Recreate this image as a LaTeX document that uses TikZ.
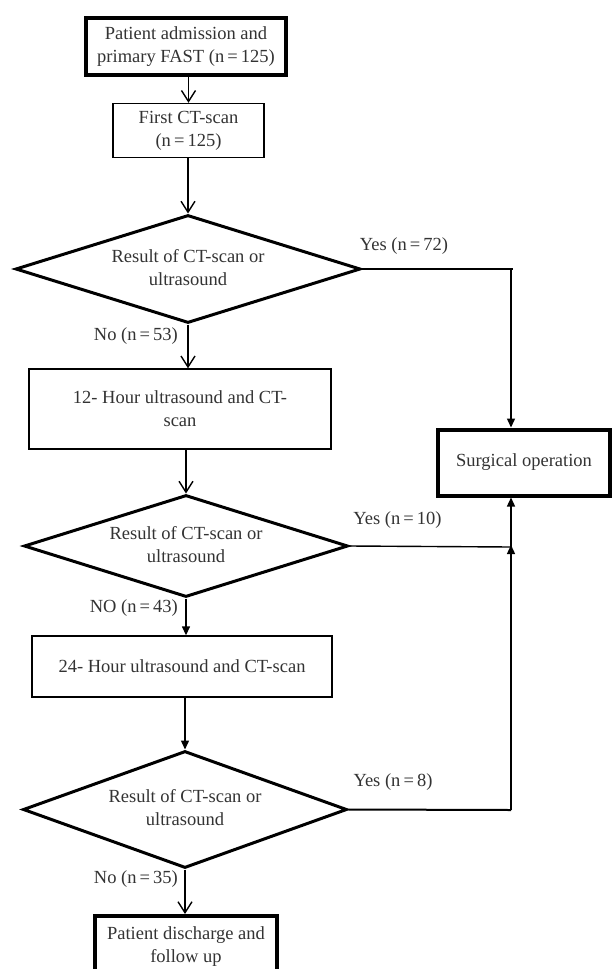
\documentclass[tikz,border=0pt]{standalone}
\usepackage{fontspec}
\setmainfont{Liberation Serif}
\usetikzlibrary{shapes.geometric,arrows.meta}
\newcommand{\dtext}{\raisebox{-4pt}{\begin{tabular}{@{}c@{}}Result of CT-scan or\\ultrasound\end{tabular}}}
\begin{document}
\begin{tikzpicture}[x=1pt,y=-1pt,
  every node/.style={font=\fontsize{18.5}{23}\selectfont, text=black!80},
  thinbox/.style={draw=black, line width=1.4pt, rectangle, align=center, inner sep=0pt},
  thickbox/.style={draw=black, line width=4pt, rectangle, align=center, inner sep=0pt},
  decide/.style={draw=black, line width=3pt, diamond, shape aspect=3.2, align=center, inner sep=0pt},
  lbl/.style={inner sep=0pt},
  openarr/.style={line width=1.4pt, -{Straight Barb[length=11pt,width=14pt,line width=1.4pt]}},
  fillarr/.style={line width=1.4pt, -{Triangle[length=9pt,width=8pt]}},
  plain/.style={line width=1.4pt}
]
\useasboundingbox (0,0) rectangle (612,969);
\fill[white] (0,0) rectangle (612,969);

\node[thickbox, minimum width=200pt, minimum height=57pt] (top) at (186,46.5)
  {Patient admission and\\primary FAST (n\,=\,125)};
\node[thinbox, minimum width=151pt, minimum height=54pt] (ct1) at (188.5,130.5)
  {First CT-scan\\(n\,=\,125)};
\node[decide, minimum width=345pt, minimum height=108pt] (d1) at (188,269) {\dtext};
\node[thinbox, minimum width=302pt, minimum height=80pt] (h12) at (180,409)
  {12- Hour ultrasound and CT-\\scan};
\node[decide, minimum width=324pt, minimum height=102pt] (d2) at (186,546) {\dtext};
\node[thinbox, minimum width=300pt, minimum height=61pt] (h24) at (182,666.5)
  {24- Hour ultrasound and CT-scan};
\node[decide, minimum width=324pt, minimum height=117pt] (d3) at (185,809.5) {\dtext};
\node[thickbox, minimum width=182pt, minimum height=62pt] (dis) at (186,947)
  {Patient discharge and\\follow up};
\node[thickbox, minimum width=172pt, minimum height=66pt] (surg) at (524,462.5)
  {Surgical operation};

\coordinate (j1) at (511,269);
\coordinate (j2) at (511,547);
\coordinate (j3) at (511,810);

\draw[openarr] (top.south -| ct1.north) -- (ct1.north);
\draw[openarr] (ct1.south -| d1.north) -- (d1.north);
\draw[openarr] (d1.south) -- (d1.south |- h12.north);
\draw[openarr] (h12.south -| d2.north) -- (d2.north);
\draw[fillarr] (d2.south) -- (d2.south |- h24.north);
\draw[fillarr] (h24.south -| d3.north) -- (d3.north);
\draw[openarr] (d3.south) -- (d3.south |- dis.north);

\draw[line width=2.2pt] (d1.east) -- ([xshift=2pt]j1);
\draw[fillarr] (j1) -- (j1 |- surg.north);
\draw[plain] (d2.east) -- (j2);
\draw[fillarr] (j2) -- (j2 |- surg.south);
\draw[line width=2pt] (d3.east) -- (j3);
\draw[fillarr] (j3) -- ([yshift=2pt]j2);

\node[lbl] (y72) at (404,246) {Yes (n\,=\,72)};
\node[lbl] (y10) at (397.5,520) {Yes (n\,=\,10)};
\node[lbl] (y8) at (393,782) {Yes (n\,=\,8)};
\node[lbl, anchor=east] (n53) at (178,336) {No (n\,=\,53)};
\node[lbl, anchor=east] (n43) at (178,608) {NO (n\,=\,43)};
\node[lbl, anchor=east] (n35) at (178,879) {No (n\,=\,35)};
\end{tikzpicture}
\end{document}
